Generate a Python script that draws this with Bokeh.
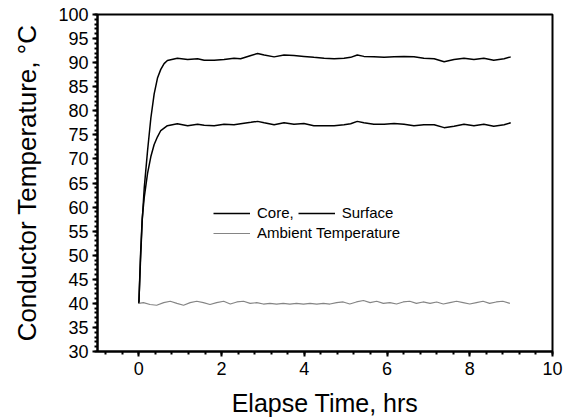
from bokeh.plotting import figure
from bokeh.models import Legend, LegendItem, SingleIntervalTicker, Range1d
from bokeh.embed import file_html
from bokeh.resources import INLINE

# ---------------- data ----------------
core_t = [0.0, 0.04, 0.08, 0.13, 0.21, 0.29, 0.37, 0.45, 0.53, 0.61,
          0.69, 0.93, 1.18, 1.42, 1.58, 1.82, 2.06, 2.30, 2.46, 2.71,
          2.87, 3.03, 3.27, 3.51, 3.75, 3.99, 4.23, 4.48, 4.72, 4.96,
          5.12, 5.28, 5.44, 5.68, 5.93, 6.17, 6.41, 6.65, 6.89, 7.14,
          7.38, 7.62, 7.86, 8.10, 8.34, 8.58, 8.83, 8.99]
core_temp = [40.0, 49.0, 57.0, 64.0, 71.7, 78.5, 83.5, 86.8, 88.6, 89.8,
             90.45, 90.9, 90.65, 90.8, 90.5, 90.5, 90.65, 90.9, 90.8, 91.5,
             91.9, 91.6, 91.2, 91.6, 91.5, 91.3, 91.1, 90.9, 90.8, 90.9,
             91.1, 91.6, 91.3, 91.2, 91.1, 91.2, 91.3, 91.2, 90.9, 90.8,
             90.2, 90.65, 90.9, 90.65, 90.9, 90.5, 90.8, 91.2]

surface_t = core_t
surface_temp = [40.0, 50.0, 57.5, 62.0, 67.0, 70.5, 73.0, 74.6, 75.9, 76.4,
                76.9, 77.3, 76.9, 77.2, 77.0, 76.9, 77.2, 77.1, 77.3, 77.6,
                77.8, 77.5, 77.1, 77.5, 77.2, 77.35, 76.9, 76.9, 76.9, 77.1,
                77.3, 77.8, 77.5, 77.2, 77.2, 77.35, 77.2, 76.9, 77.1, 77.1,
                76.5, 76.8, 77.2, 76.9, 77.2, 76.8, 77.1, 77.5]

ambient_t = [0.0, 0.11, 0.27, 0.43, 0.60, 0.76, 0.92, 1.08, 1.24, 1.40, 1.56,
             1.72, 1.88, 2.05, 2.21, 2.37, 2.53, 2.69, 2.85, 3.01, 3.17,
             3.33, 3.49, 3.65, 3.81, 3.98, 4.14, 4.30, 4.46, 4.62, 4.78,
             4.94, 5.10, 5.26, 5.43, 5.59, 5.75, 5.91, 6.07, 6.23, 6.39,
             6.55, 6.71, 6.87, 7.04, 7.20, 7.36, 7.52, 7.68, 7.84, 8.00,
             8.16, 8.32, 8.48, 8.64, 8.80, 8.97]
ambient_temp = [40.0, 40.15, 39.75, 39.6, 40.15, 40.45, 40.0, 39.6, 40.15, 40.45, 40.15,
                39.75, 40.15, 40.45, 39.85, 40.3, 40.45, 40.0, 40.15, 39.85, 40.0,
                39.85, 40.0, 39.85, 40.0, 39.85, 40.0, 39.85, 40.0, 39.85, 40.15,
                40.3, 39.85, 40.3, 40.6, 40.15, 40.45, 40.0, 40.15, 39.85, 40.3,
                40.45, 40.0, 40.3, 40.0, 40.3, 39.85, 40.15, 40.45, 40.15, 39.85,
                40.15, 40.45, 40.0, 40.3, 40.45, 40.0]

x_title = "Elapse Time, hrs"
y_title = "Conductor Temperature, °C"
legend_labels = ["Core,", "Surface", "Ambient Temperature"]

FONT = "Liberation Sans"

p = figure(width=572, height=420, output_backend="svg", toolbar_location=None,
           x_range=Range1d(-1, 10), y_range=Range1d(30, 100),
           min_border_left=97, min_border_right=20, min_border_top=14,
           min_border_bottom=69)

p.grid.visible = False
p.outline_line_color = "black"
p.outline_line_width = 2
p.background_fill_color = "white"
p.border_fill_color = "white"

core = p.line(core_t, core_temp, line_color="black", line_width=1.5)
surf = p.line(surface_t, surface_temp, line_color="black", line_width=1.5)
amb = p.line(ambient_t, ambient_temp, line_color="#858585", line_width=1.1)

xa = p.xaxis[0]
xa.ticker = SingleIntervalTicker(interval=2, num_minor_ticks=5)
ya = p.yaxis[0]
ya.ticker = SingleIntervalTicker(interval=5, num_minor_ticks=5)

for ax in (xa, ya):
    ax.axis_line_width = 2
    ax.axis_line_color = "black"
    ax.major_tick_line_width = 2
    ax.minor_tick_line_width = 2
    ax.major_tick_in = 0
    ax.major_tick_out = 5
    ax.minor_tick_in = 0
    ax.minor_tick_out = 3
    ax.major_label_text_font = FONT
    ax.major_label_text_font_size = "18px"
    ax.major_label_text_color = "black"
    ax.axis_label_text_font = FONT
    ax.axis_label_text_font_style = "normal"
    ax.axis_label_text_color = "black"

xa.axis_label = x_title
xa.axis_label_text_font_size = "25px"
xa.major_label_standoff = 5
xa.axis_label_standoff = 11

ya.axis_label = y_title
ya.axis_label_text_font_size = "26px"
ya.major_label_standoff = 4
ya.axis_label_standoff = 13

def make_legend(items, loc):
    lg = Legend(items=items, location=loc, orientation="horizontal",
                background_fill_alpha=0, border_line_alpha=0,
                padding=0, margin=0, spacing=4,
                glyph_width=37, glyph_height=16, label_height=16,
                label_standoff=7, label_text_font=FONT,
                label_text_font_size="15px", label_text_color="black")
    return lg

lg1 = make_legend([LegendItem(label=legend_labels[0], renderers=[core]),
                   LegendItem(label=legend_labels[1], renderers=[surf])], (116, 130))
lg2 = make_legend([LegendItem(label=legend_labels[2], renderers=[amb])], (116, 110))
p.add_layout(lg1)
p.add_layout(lg2)

open("out.html", "w").write(file_html(p, INLINE))
